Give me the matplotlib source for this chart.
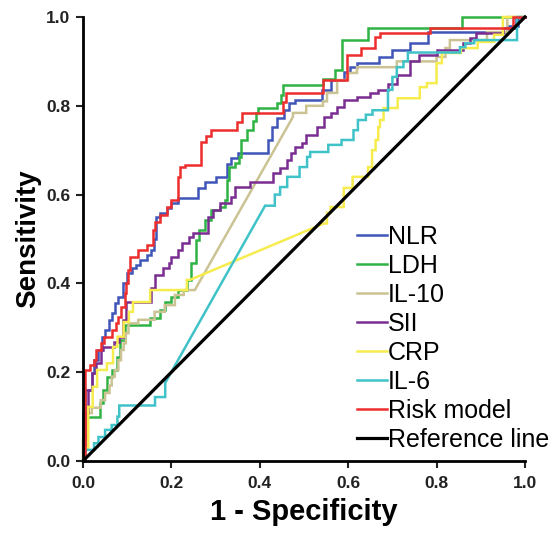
import matplotlib
matplotlib.use("Agg")
import matplotlib.pyplot as plt

plt.rcParams['font.family'] = ['Liberation Sans', 'DejaVu Sans']

# ROC curves (1 - specificity, sensitivity)
nlr = [(0, 0), (0, 0.108), (0.005, 0.108), (0.005, 0.16), (0.02, 0.16), (0.02, 0.198), (0.025, 0.198),
       (0.025, 0.227), (0.035, 0.227), (0.035, 0.25), (0.042, 0.25), (0.042, 0.28), (0.05, 0.28),
       (0.05, 0.295), (0.058, 0.295), (0.058, 0.318), (0.065, 0.318), (0.065, 0.333), (0.072, 0.333),
       (0.072, 0.356), (0.08, 0.356), (0.08, 0.37), (0.09, 0.37), (0.09, 0.4), (0.1, 0.4), (0.1, 0.423),
       (0.11, 0.423), (0.11, 0.435), (0.12, 0.435), (0.12, 0.441), (0.13, 0.441), (0.13, 0.453),
       (0.145, 0.453), (0.145, 0.464), (0.155, 0.464), (0.155, 0.475), (0.16, 0.475), (0.16, 0.5),
       (0.165, 0.5), (0.165, 0.55), (0.175, 0.55), (0.175, 0.559), (0.19, 0.559), (0.19, 0.57),
       (0.2, 0.57), (0.2, 0.58), (0.215, 0.58), (0.215, 0.592), (0.26, 0.592), (0.26, 0.615),
       (0.275, 0.615), (0.275, 0.628), (0.3, 0.628), (0.3, 0.64), (0.325, 0.64), (0.325, 0.67),
       (0.335, 0.67), (0.335, 0.682), (0.35, 0.682), (0.35, 0.694), (0.418, 0.694), (0.418, 0.723),
       (0.428, 0.723), (0.428, 0.752), (0.44, 0.752), (0.44, 0.772), (0.455, 0.772), (0.455, 0.79),
       (0.465, 0.79), (0.465, 0.806), (0.48, 0.806), (0.48, 0.813), (0.54, 0.813), (0.54, 0.836),
       (0.56, 0.836), (0.56, 0.858), (0.59, 0.858), (0.59, 0.876), (0.605, 0.876), (0.605, 0.887),
       (0.62, 0.887), (0.62, 0.896), (0.67, 0.896), (0.67, 0.91), (0.7, 0.91), (0.7, 0.925),
       (0.74, 0.925), (0.74, 0.941), (0.78, 0.941), (0.78, 0.966), (0.96, 0.966), (0.96, 0.98),
       (0.985, 0.98), (0.985, 1), (1, 1)]

ldh = [(0, 0), (0, 0.1), (0.038, 0.1), (0.038, 0.13), (0.045, 0.13), (0.045, 0.16), (0.055, 0.16),
       (0.055, 0.19), (0.066, 0.19), (0.066, 0.205), (0.077, 0.205), (0.077, 0.234), (0.084, 0.234),
       (0.084, 0.272), (0.095, 0.272), (0.095, 0.306), (0.152, 0.306), (0.152, 0.322), (0.174, 0.322),
       (0.174, 0.34), (0.185, 0.34), (0.185, 0.358), (0.2, 0.358), (0.2, 0.37), (0.215, 0.37),
       (0.215, 0.385), (0.235, 0.385), (0.235, 0.408), (0.245, 0.408), (0.245, 0.446), (0.255, 0.446),
       (0.255, 0.498), (0.262, 0.498), (0.262, 0.52), (0.275, 0.52), (0.275, 0.543), (0.29, 0.543),
       (0.29, 0.565), (0.31, 0.565), (0.31, 0.572), (0.322, 0.572), (0.322, 0.588), (0.326, 0.588),
       (0.326, 0.633), (0.33, 0.633), (0.33, 0.662), (0.345, 0.662), (0.345, 0.671), (0.352, 0.671),
       (0.352, 0.685), (0.358, 0.685), (0.358, 0.723), (0.37, 0.723), (0.37, 0.745), (0.385, 0.745),
       (0.385, 0.765), (0.392, 0.765), (0.392, 0.784), (0.396, 0.784), (0.396, 0.795), (0.44, 0.795),
       (0.44, 0.806), (0.447, 0.806), (0.447, 0.825), (0.452, 0.825), (0.452, 0.847), (0.543, 0.847),
       (0.543, 0.86), (0.57, 0.86), (0.57, 0.88), (0.585, 0.88), (0.585, 0.948), (0.645, 0.948),
       (0.645, 0.975), (0.857, 0.975), (0.857, 1.0), (1, 1)]

il10 = [(0, 0), (0, 0.05), (0.01, 0.05), (0.01, 0.108), (0.02, 0.108), (0.02, 0.12), (0.04, 0.12),
        (0.04, 0.137), (0.05, 0.137), (0.05, 0.153), (0.06, 0.153), (0.06, 0.17), (0.065, 0.17),
        (0.065, 0.19), (0.072, 0.19), (0.072, 0.205), (0.08, 0.205), (0.08, 0.227), (0.086, 0.227),
        (0.086, 0.25), (0.092, 0.25), (0.092, 0.265), (0.097, 0.265), (0.097, 0.288), (0.103, 0.288),
        (0.103, 0.31), (0.125, 0.31), (0.125, 0.318), (0.162, 0.318), (0.162, 0.336), (0.185, 0.336),
        (0.185, 0.351), (0.208, 0.351), (0.208, 0.374), (0.228, 0.374), (0.228, 0.385), (0.253, 0.385),
        (0.475, 0.775), (0.475, 0.784), (0.505, 0.784), (0.505, 0.8), (0.543, 0.8), (0.543, 0.81),
        (0.552, 0.81), (0.552, 0.829), (0.575, 0.829), (0.575, 0.858), (0.6, 0.858), (0.6, 0.874),
        (0.62, 0.874), (0.62, 0.887), (0.71, 0.887), (0.71, 0.9), (0.8, 0.9), (0.8, 0.91), (0.82, 0.91),
        (0.82, 0.93), (0.83, 0.93), (0.83, 0.948), (0.914, 0.948), (0.914, 0.966), (0.96, 0.966),
        (0.96, 1.0), (1, 1)]

sii = [(0, 0), (0.005, 0), (0.005, 0.108), (0.012, 0.108), (0.012, 0.16), (0.02, 0.16), (0.02, 0.198),
       (0.03, 0.198), (0.03, 0.22), (0.04, 0.22), (0.04, 0.25), (0.045, 0.25), (0.045, 0.257),
       (0.07, 0.257), (0.07, 0.268), (0.082, 0.268), (0.082, 0.279), (0.09, 0.279), (0.09, 0.318),
       (0.098, 0.318), (0.098, 0.358), (0.155, 0.358), (0.155, 0.39), (0.163, 0.39), (0.163, 0.42),
       (0.18, 0.42), (0.18, 0.435), (0.195, 0.435), (0.195, 0.446), (0.2, 0.446), (0.2, 0.46),
       (0.215, 0.46), (0.215, 0.475), (0.225, 0.475), (0.225, 0.49), (0.24, 0.49), (0.24, 0.505),
       (0.25, 0.505), (0.25, 0.513), (0.283, 0.513), (0.283, 0.55), (0.295, 0.55), (0.295, 0.565),
       (0.31, 0.565), (0.31, 0.58), (0.335, 0.58), (0.335, 0.595), (0.345, 0.595), (0.345, 0.617),
       (0.378, 0.617), (0.378, 0.628), (0.43, 0.628), (0.43, 0.649), (0.445, 0.649), (0.445, 0.66),
       (0.462, 0.66), (0.462, 0.678), (0.47, 0.678), (0.47, 0.694), (0.48, 0.694), (0.48, 0.707),
       (0.495, 0.707), (0.495, 0.716), (0.505, 0.716), (0.505, 0.734), (0.53, 0.734), (0.53, 0.752),
       (0.545, 0.752), (0.545, 0.775), (0.56, 0.775), (0.56, 0.784), (0.575, 0.784), (0.575, 0.797),
       (0.59, 0.797), (0.59, 0.813), (0.62, 0.813), (0.62, 0.82), (0.65, 0.82), (0.65, 0.829),
       (0.668, 0.829), (0.668, 0.836), (0.69, 0.836), (0.69, 0.85), (0.71, 0.85), (0.71, 0.87),
       (0.74, 0.87), (0.74, 0.9), (0.76, 0.9), (0.76, 0.915), (0.8, 0.915), (0.8, 0.925), (0.86, 0.925),
       (0.86, 0.941), (0.875, 0.941), (0.875, 0.952), (0.89, 0.952), (0.89, 0.964), (0.95, 0.964),
       (0.95, 0.975), (0.98, 0.975), (0.98, 1), (1, 1)]

crp = [(0, 0), (0.005, 0), (0.005, 0.03), (0.012, 0.03), (0.012, 0.122), (0.022, 0.122), (0.022, 0.167),
       (0.032, 0.167), (0.032, 0.205), (0.054, 0.205), (0.054, 0.22), (0.068, 0.22), (0.068, 0.257),
       (0.078, 0.257), (0.078, 0.28), (0.092, 0.28), (0.092, 0.313), (0.104, 0.313), (0.104, 0.336),
       (0.113, 0.336), (0.113, 0.358), (0.152, 0.358), (0.152, 0.385), (0.235, 0.385), (0.235, 0.408),
       (0.242, 0.408), (0.545, 0.535), (0.552, 0.535), (0.552, 0.559), (0.56, 0.559), (0.56, 0.572),
       (0.59, 0.572), (0.59, 0.615), (0.61, 0.615), (0.61, 0.64), (0.645, 0.64), (0.645, 0.662),
       (0.654, 0.662), (0.654, 0.7), (0.662, 0.7), (0.662, 0.723), (0.668, 0.723), (0.668, 0.752),
       (0.672, 0.752), (0.672, 0.768), (0.68, 0.768), (0.68, 0.795), (0.712, 0.795), (0.712, 0.817),
       (0.762, 0.817), (0.762, 0.842), (0.778, 0.842), (0.778, 0.851), (0.8, 0.851), (0.8, 0.896),
       (0.812, 0.896), (0.812, 0.919), (0.855, 0.919), (0.855, 0.93), (0.893, 0.93), (0.893, 0.944),
       (0.93, 0.944), (0.93, 0.96), (0.95, 0.96), (0.95, 1.0), (1, 1)]

il6 = [(0, 0), (0.005, 0), (0.005, 0.025), (0.025, 0.025), (0.025, 0.04), (0.035, 0.04), (0.035, 0.054),
       (0.05, 0.054), (0.05, 0.07), (0.065, 0.07), (0.065, 0.081), (0.078, 0.081), (0.078, 0.1),
       (0.082, 0.1), (0.082, 0.125), (0.163, 0.125), (0.163, 0.144), (0.186, 0.144), (0.186, 0.176),
       (0.412, 0.575), (0.434, 0.575), (0.434, 0.6), (0.446, 0.6), (0.446, 0.617), (0.462, 0.617),
       (0.462, 0.64), (0.49, 0.64), (0.49, 0.662), (0.507, 0.662), (0.507, 0.685), (0.514, 0.685),
       (0.514, 0.696), (0.555, 0.696), (0.555, 0.712), (0.585, 0.712), (0.585, 0.723), (0.612, 0.723),
       (0.612, 0.745), (0.622, 0.745), (0.622, 0.768), (0.64, 0.768), (0.64, 0.78), (0.655, 0.78),
       (0.655, 0.79), (0.69, 0.79), (0.69, 0.836), (0.7, 0.836), (0.7, 0.865), (0.71, 0.865),
       (0.71, 0.887), (0.725, 0.887), (0.725, 0.9), (0.735, 0.9), (0.735, 0.92), (0.853, 0.92),
       (0.853, 0.932), (0.865, 0.932), (0.865, 0.941), (0.885, 0.941), (0.885, 0.948), (0.982, 0.948),
       (0.982, 1.0), (1, 1)]

risk = [(0, 0), (0.005, 0), (0.005, 0.205), (0.016, 0.205), (0.016, 0.216), (0.025, 0.216), (0.025, 0.227),
        (0.03, 0.227), (0.03, 0.25), (0.04, 0.25), (0.04, 0.265), (0.047, 0.265), (0.047, 0.28),
        (0.066, 0.28), (0.066, 0.295), (0.075, 0.295), (0.075, 0.31), (0.08, 0.31), (0.08, 0.325),
        (0.085, 0.325), (0.085, 0.347), (0.095, 0.347), (0.095, 0.378), (0.098, 0.378), (0.098, 0.4),
        (0.102, 0.4), (0.102, 0.43), (0.106, 0.43), (0.106, 0.46), (0.125, 0.46), (0.125, 0.475),
        (0.145, 0.475), (0.145, 0.486), (0.158, 0.486), (0.158, 0.52), (0.163, 0.52), (0.163, 0.539),
        (0.175, 0.539), (0.175, 0.554), (0.19, 0.554), (0.19, 0.572), (0.2, 0.572), (0.2, 0.588),
        (0.215, 0.588), (0.215, 0.64), (0.22, 0.64), (0.22, 0.662), (0.23, 0.662), (0.23, 0.667),
        (0.268, 0.667), (0.268, 0.718), (0.278, 0.718), (0.278, 0.732), (0.29, 0.732), (0.29, 0.745),
        (0.348, 0.745), (0.348, 0.763), (0.36, 0.763), (0.36, 0.784), (0.452, 0.784), (0.452, 0.809),
        (0.46, 0.809), (0.46, 0.829), (0.543, 0.829), (0.543, 0.858), (0.597, 0.858), (0.597, 0.914),
        (0.63, 0.914), (0.63, 0.93), (0.66, 0.93), (0.66, 0.955), (0.672, 0.955), (0.672, 0.964),
        (0.785, 0.964), (0.785, 0.975), (0.973, 0.975), (0.973, 1.0), (1, 1)]

reference = [(0, 0), (1, 1)]

names = ['NLR', 'LDH', 'IL-10', 'SII', 'CRP', 'IL-6', 'Risk model', 'Reference line']
curves = [nlr, ldh, il10, sii, crp, il6, risk, reference]
colors = ['#4055b8', '#2fb344', '#cbc393', '#7a2d91', '#f6ec4e', '#3fc2c8', '#ee2d2d', '#000000']

fig = plt.figure(figsize=(5.51, 5.33), dpi=100)
ax = fig.add_axes([0.1506, 0.1351, 0.8022, 0.833])

for name, pts, c in zip(names, curves, colors):
    xs = [p[0] for p in pts]
    ys = [p[1] for p in pts]
    lw = 2.3 if name == 'Reference line' else 1.8
    ax.plot(xs, ys, color=c, lw=lw, label=name, clip_on=False, solid_joinstyle='miter')

ax.set_xlim(0, 1)
ax.set_ylim(0, 1)
ax.set_xticks([0, 0.2, 0.4, 0.6, 0.8, 1.0])
ax.set_yticks([0, 0.2, 0.4, 0.6, 0.8, 1.0])
ax.set_xticklabels(['0.0', '0.2', '0.4', '0.6', '0.8', '1.0'])
ax.set_yticklabels(['0.0', '0.2', '0.4', '0.6', '0.8', '1.0'])
for s in ['top', 'right']:
    ax.spines[s].set_visible(False)
for s in ['left', 'bottom']:
    ax.spines[s].set_linewidth(2)
ax.tick_params(direction='out', length=5, width=1.5, labelsize=12.5, colors='#222222')
ax.tick_params(axis='x', pad=6)
ax.tick_params(axis='y', pad=4)
for lab in ax.get_xticklabels() + ax.get_yticklabels():
    lab.set_fontweight('bold')

ax.set_xlabel('1 - Specificity', fontsize=21, fontweight='bold', labelpad=5)
ax.set_ylabel('Sensitivity', fontsize=20, fontweight='bold', labelpad=4)

ax.legend(loc='lower right', bbox_to_anchor=(0.997, 0.152), bbox_transform=fig.transFigure,
          frameon=False, fontsize=18, handlelength=1.2, handletextpad=0.05, labelspacing=0.2,
          borderpad=0, borderaxespad=0)

fig.savefig('out.png', dpi=100)
